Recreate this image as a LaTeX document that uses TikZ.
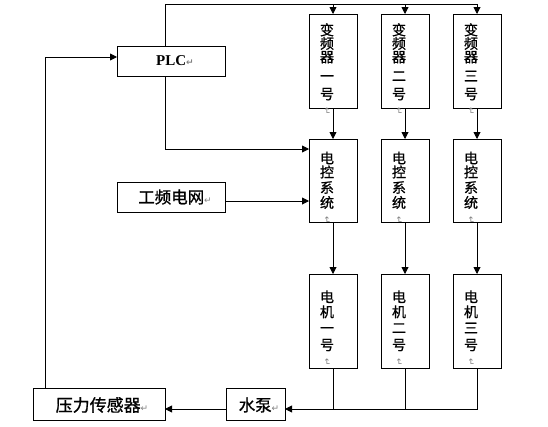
\documentclass[tikz,border=0pt]{standalone}
\usepackage{fontspec}
\setmainfont{Liberation Serif}
\newfontfamily\cjk[FakeBold=1]{Noto Sans CJK SC}
\newfontfamily\dvs{DejaVu Sans}
\usetikzlibrary{arrows.meta}
\definecolor{markgray}{RGB}{128,128,128}
\newcommand{\pmark}{{\dvs\fontsize{9}{9}\selectfont\textcolor{markgray}{↵}}}
\newcommand{\vmark}{\rotatebox{-90}{\pmark}}
\tikzset{
  box/.style={draw, line width=0.9pt, anchor=north west, inner sep=0pt, outer sep=0pt},
  vbox/.style={box, minimum width=48pt},
  vlab/.style={align=center, inner sep=0pt, font=\cjk\fontsize{14}{14}\selectfont},
  hlab/.style={inner sep=0pt, font=\cjk\fontsize{16.5}{18}\selectfont},
  line/.style={line width=0.9pt},
  arr/.style={line, -{Triangle[length=7pt,width=7pt]}}
}
\begin{document}
\begin{tikzpicture}[x=1pt,y=-1pt]
\useasboundingbox (0,0) rectangle (548,426);
% boxes
\node[box, minimum width=108pt, minimum height=30pt] (plc) at (117,46) {};
\node[box, minimum width=108pt, minimum height=30pt] (grid) at (117,182) {};
\node[box, minimum width=132pt, minimum height=32pt] (sensor) at (33,388) {};
\node[box, minimum width=59pt, minimum height=32pt] (pump) at (226,388) {};
\node[vbox, minimum height=94pt] (inv1) at (309,14) {};
\node[vbox, minimum height=94pt] (inv2) at (381,14) {};
\node[vbox, minimum height=94pt] (inv3) at (453,14) {};
\node[vbox, minimum height=83pt] (ctl1) at (309,139) {};
\node[vbox, minimum height=83pt] (ctl2) at (381,139) {};
\node[vbox, minimum height=83pt] (ctl3) at (453,139) {};
\node[vbox, minimum height=94pt] (mot1) at (309,274) {};
\node[vbox, minimum height=94pt] (mot2) at (381,274) {};
\node[vbox, minimum height=94pt] (mot3) at (453,274) {};
% labels
\node[inner sep=0pt, font=\bfseries\fontsize{15}{16}\selectfont] (plct) at (175,61) {PLC\pmark};
\node[hlab] (gridt) at (175,197) {工频电网\pmark};
\node[hlab, font=\cjk\fontsize{17}{18}\selectfont] (sensort) at (102,405) {压力传感器\pmark};
\node[hlab] (pumpt) at (259,405) {水泵\pmark};
\node[vlab] (inv1t) at (327,69) {变\\[-0.5pt]频\\[-0.5pt]器\\[5pt]一\\[4pt]号\\[-6pt]\vmark};
\node[vlab] (inv2t) at (399,69) {变\\[-0.5pt]频\\[-0.5pt]器\\[5pt]二\\[4pt]号\\[-6pt]\vmark};
\node[vlab] (inv3t) at (471,69) {变\\[-0.5pt]频\\[-0.5pt]器\\[5pt]三\\[4pt]号\\[-6pt]\vmark};
\node[vlab] (ctl1t) at (327,188) {电\\[0pt]控\\[1.5pt]系\\[1pt]统\\[-5pt]\vmark};
\node[vlab] (ctl2t) at (399,188) {电\\[0pt]控\\[1.5pt]系\\[1pt]统\\[-5pt]\vmark};
\node[vlab] (ctl3t) at (471,188) {电\\[0pt]控\\[1.5pt]系\\[1pt]统\\[-5pt]\vmark};
\node[vlab] (mot1t) at (327,328) {电\\[1pt]机\\[2pt]一\\[3pt]号\\[-6pt]\vmark};
\node[vlab] (mot2t) at (399,328) {电\\[1pt]机\\[2pt]二\\[3pt]号\\[-6pt]\vmark};
\node[vlab] (mot3t) at (471,328) {电\\[1pt]机\\[2pt]三\\[3pt]号\\[-6pt]\vmark};
% coordinates
\coordinate (top) at (165,4.5);
\coordinate (plcdown) at (165,149);
\coordinate (bot) at (0,409);
\coordinate (left) at (45,57);
% connectors
\draw[arr] (plc.north -| top) -- (top) -| (inv3.north);
\draw[arr] (top -| inv1.north) -- (inv1.north);
\draw[arr] (top -| inv2.north) -- (inv2.north);
\draw[arr] (plc.south -| plcdown) -- (plcdown) -- (plcdown -| ctl1.west);
\draw[arr] ([yshift=-4pt]grid.east) -- ([yshift=-4pt]grid.east -| ctl1.west);
\draw[arr] (inv1.south) -- (ctl1.north);
\draw[arr] (inv2.south) -- (ctl2.north);
\draw[arr] (inv3.south) -- (ctl3.north);
\draw[arr] (ctl1.south) -- (mot1.north);
\draw[arr] (ctl2.south) -- (mot2.north);
\draw[arr] (ctl3.south) -- (mot3.north);
\draw[line] (mot1.south) -- (mot1.south |- bot);
\draw[line] (mot2.south) -- (mot2.south |- bot);
\draw[arr] (mot3.south) -- (mot3.south |- bot) -- (pump.east |- bot);
\draw[arr] (pump.west |- bot) -- (sensor.east |- bot);
\draw[arr] (sensor.north -| left) -- (left) -- (left -| plc.west);
\end{tikzpicture}
\end{document}
